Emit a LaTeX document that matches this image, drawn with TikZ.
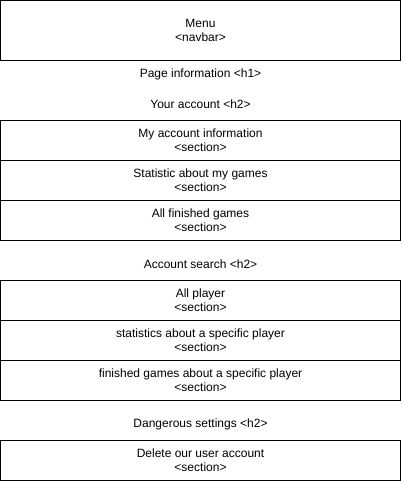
\documentclass[tikz,border=0pt]{standalone}
\usepackage{fontspec}
\setmainfont{Liberation Sans}
\begin{document}
\begin{tikzpicture}[x=1pt,y=-1pt,
  box/.style={draw=black, line width=1pt, minimum width=400pt, minimum height=40pt, inner sep=0pt, align=center, font=\fontsize{12}{14}\selectfont},
  lbl/.style={inner sep=0pt, align=center, font=\fontsize{12}{14}\selectfont}]
\useasboundingbox (0,0) rectangle (401,481);
\node[box, minimum height=60pt] (menu) at (200.5,30.5) {Menu\\<navbar>};
\node[lbl] (h1) at (200.5,74) {Page information <h1>};
\node[lbl] (h2a) at (200.5,104) {Your account <h2>};
\node[box] (s1) at (200.5,140.5) {My account information\\<section>};
\node[box] (s2) at (200.5,180.5) {Statistic about my games\\<section>};
\node[box] (s3) at (200.5,220.5) {All finished games\\<section>};
\node[lbl] (h2b) at (200.5,264) {Account search <h2>};
\node[box] (s4) at (200.5,300.5) {All player\\<section>};
\node[box] (s5) at (200.5,340.5) {statistics about a specific player\\<section>};
\node[box] (s6) at (200.5,380.5) {finished games about a specific player\\<section>};
\node[lbl] (h2c) at (200.5,424) {Dangerous settings <h2>};
\node[box] (s7) at (200.5,460.5) {Delete our user account\\<section>};
\end{tikzpicture}
\end{document}
